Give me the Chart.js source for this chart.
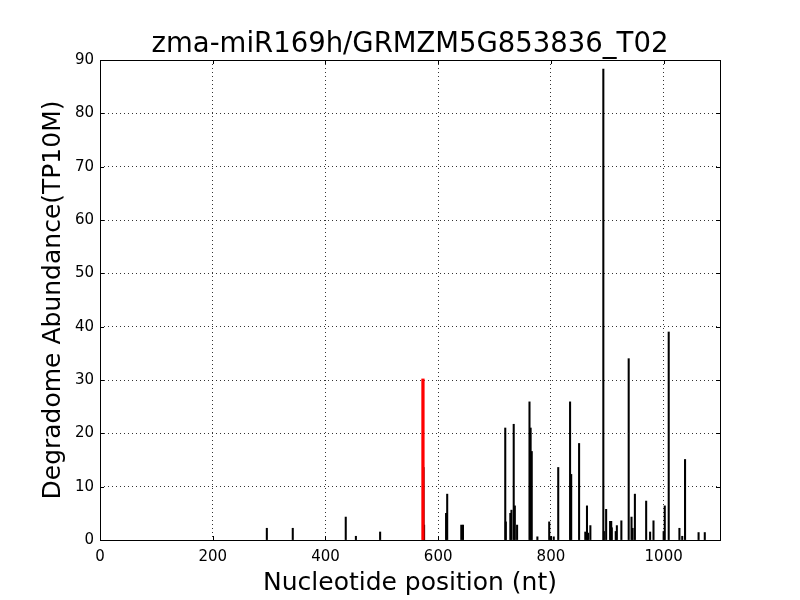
<!DOCTYPE html>
<html>
<head>
<meta charset="utf-8">
<script src="https://cdn.jsdelivr.net/npm/chart.js@4.4.0/dist/chart.umd.min.js"></script>
<style>
  body { margin: 0; background: #fff; }
</style>
</head>
<body>
<canvas id="plot" width="800" height="600"></canvas>
<script>
  const chartTitle = "zma-miR169h/GRMZM5G853836_T02";

  // degradome reads: nucleotide position and abundance (TP10M)
  const positions = [296, 342, 436, 454, 497, 574, 575, 614, 616, 641, 644,
    719, 720, 728, 730, 734, 736, 740, 762, 764, 766, 776, 797, 800, 805,
    813, 834, 836, 850, 861, 864, 866, 870, 893, 894, 898, 905, 907, 908,
    915, 917, 925, 938, 943, 945, 949, 969, 976, 982, 1000, 1002, 1009,
    1028, 1033, 1038, 1062, 1073];
  const abundance = [2.2, 2.2, 4.3, 0.7, 1.5, 13.6, 2.8, 5, 8.6, 2.8, 2.8,
    21, 3.4, 5, 5.6, 21.7, 6.4, 2.8, 25.9, 21, 16.6, 0.6, 3.4, 0.6, 0.6,
    13.6, 25.9, 12.3, 18.1, 1.5, 6.4, 1.3, 2.7, 88.3, 1.6, 5.75, 3.5, 3.5, 2.3,
    1.6, 2.7, 3.6, 34, 4.3, 2.2, 8.6, 7.3, 1.5, 3.6, 1.6, 6.4, 39,
    2.2, 0.7, 15.1, 1.4, 1.4];

  // the miRNA cleavage site
  const sitePositions = [573];
  const siteAbundance = [30.2];

  const xTicks = [0, 200, 400, 600, 800, 1000];
  const yTicks = [0, 10, 20, 30, 40, 50, 60, 70, 80, 90];

  const toPoints = (xs, ys) => xs.map((v, i) => ({ x: v, y: ys[i] }));

  // frame, inner tick marks and title, drawn like the matplotlib original
  const frame = {
    id: "frame",
    afterDraw(chart) {
      const { ctx, chartArea: a, scales } = chart;
      ctx.save();
      ctx.strokeStyle = "#000";
      ctx.lineWidth = 1;
      ctx.beginPath();
      xTicks.forEach((v) => {
        const px = Math.round(scales.x.getPixelForValue(v)) + 0.5;
        ctx.moveTo(px, a.bottom); ctx.lineTo(px, a.bottom - 4);
        ctx.moveTo(px, a.top); ctx.lineTo(px, a.top + 4);
      });
      yTicks.forEach((v) => {
        const py = Math.round(scales.y.getPixelForValue(v)) + 0.5;
        ctx.moveTo(a.left, py); ctx.lineTo(a.left + 4, py);
        ctx.moveTo(a.right, py); ctx.lineTo(a.right - 4, py);
      });
      ctx.stroke();
      ctx.strokeRect(a.left + 0.5, a.top + 0.5, a.right - a.left, a.bottom - a.top);

      ctx.fillStyle = "#000";
      ctx.font = '27.5px "DejaVu Sans"';
      ctx.textAlign = "center";
      ctx.textBaseline = "alphabetic";
      ctx.fillText(chartTitle, (a.left + a.right) / 2, 52);
      ctx.restore();
    },
  };

  window.addEventListener("load", () => {
    const ctx = document.getElementById("plot");

    new Chart(ctx, {
      type: "bar",
      data: {
        datasets: [
          {
            label: "Reads",
            data: toPoints(positions, abundance),
            backgroundColor: "#000",
            barThickness: 1.4,
            grouped: false,
            order: 2,
          },
          {
            label: "Cleavage site",
            data: toPoints(sitePositions, siteAbundance),
            backgroundColor: "#ff0000",
            barThickness: 2.6,
            grouped: false,
            order: 1,
          },
        ],
      },
      plugins: [frame],
      options: {
        responsive: false,
        animation: false,
        devicePixelRatio: 1,
        layout: { padding: { top: 60, right: 80, left: 0, bottom: 0 } },
        plugins: {
          legend: { display: false },
          tooltip: { enabled: false },
        },
        scales: {
          x: {
            type: "linear",
            min: 0,
            max: 1100,
            offset: false,
            afterFit: (scale) => { scale.height = 60; },
            afterBuildTicks: (scale) => { scale.ticks = xTicks.map((v) => ({ value: v })); },
            grid: { color: "#000", lineWidth: 0.8, drawTicks: false, offset: false },
            border: { display: false, dash: [1, 3] },
            ticks: {
              color: "#000",
              padding: 8,
              maxRotation: 0,
              font: { family: "DejaVu Sans", size: 15 },
              callback: (v) => String(v),
            },
            title: {
              display: true,
              text: "Nucleotide position (nt)",
              color: "#000",
              font: { family: "DejaVu Sans", size: 25 },
              padding: { top: 0, bottom: 2 },
            },
          },
          y: {
            min: 0,
            max: 90,
            afterFit: (scale) => { scale.width = 100; },
            afterBuildTicks: (scale) => { scale.ticks = yTicks.map((v) => ({ value: v })); },
            grid: { color: "#000", lineWidth: 0.8, drawTicks: false },
            border: { display: false, dash: [1, 3] },
            ticks: {
              color: "#000",
              padding: 6,
              font: { family: "DejaVu Sans", size: 15 },
              callback: (v) => String(v),
            },
            title: {
              display: true,
              text: "Degradome Abundance(TP10M)",
              color: "#000",
              font: { family: "DejaVu Sans", size: 25 },
              padding: { top: 38, bottom: 0 },
            },
          },
        },
      },
    });
  });
</script>
</body>
</html>
